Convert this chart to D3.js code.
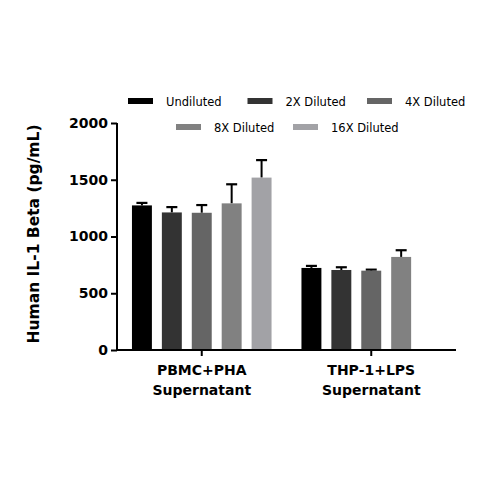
<!DOCTYPE html>
<html>
<head>
<meta charset="utf-8">
<script src="https://cdn.jsdelivr.net/npm/d3@7"></script>
<style>
  html, body { margin: 0; padding: 0; background: #fff; }
  svg { display: block; }
</style>
</head>
<body>
<svg id="chart" width="500" height="500"></svg>
<script>
const groups = ["PBMC+PHA|Supernatant", "THP-1+LPS|Supernatant"];
const series = ["Undiluted", "2X Diluted", "4X Diluted", "8X Diluted", "16X Diluted"];
const colors = ["#000000", "#333333", "#656565", "#818181", "#a2a2a6"];
const means = [
  [1274, 723],
  [1212, 705],
  [1209, 699],
  [1292, 820],
  [1519, null]
];
const errors = [
  [22, 18],
  [47, 24],
  [68, 9],
  [168, 59],
  [154, null]
];
const yTicks = [0, 500, 1000, 1500, 2000];
const yTitle = "Human IL-1 Beta (pg/mL)";

const svg = d3.select("#chart");
const font = "'DejaVu Sans', sans-serif";

const x0 = d3.scaleBand().domain(groups).range([117, 456]).padding(0);
const x1 = d3.scaleBand().domain(series).range([0, x0.bandwidth()]).paddingInner(1/3).paddingOuter(0.5);
const y = d3.scaleLinear().domain([0, 2000]).range([350, 123]);

const data = [];
series.forEach((s, si) => {
  groups.forEach((g, gi) => {
    if (means[si][gi] != null) data.push({ g, s, si, v: means[si][gi], e: errors[si][gi] });
  });
});

// Error bars
const eb = svg.append("g");
data.forEach(d => {
  const cx = x0(d.g) + x1(d.s) + x1.bandwidth() / 2;
  eb.append("line").attr("x1", cx).attr("x2", cx).attr("y1", y(d.v)).attr("y2", y(d.v + d.e))
    .attr("stroke", "#000").attr("stroke-width", 2);
  eb.append("line").attr("x1", cx - 5.5).attr("x2", cx + 5.5).attr("y1", y(d.v + d.e)).attr("y2", y(d.v + d.e))
    .attr("stroke", "#000").attr("stroke-width", 2.2);
});

// Bars
svg.append("g").selectAll("rect").data(data).join("rect")
  .attr("x", d => x0(d.g) + x1(d.s))
  .attr("width", x1.bandwidth())
  .attr("y", d => y(d.v))
  .attr("height", d => y(0) - y(d.v))
  .attr("fill", d => colors[d.si]);

// Y axis
const yAxis = svg.append("g").attr("transform", "translate(117,0)")
  .call(d3.axisLeft(y).tickValues(yTicks).tickSize(6).tickPadding(3).tickFormat(d3.format("d")));
yAxis.select(".domain").attr("stroke", "#000").attr("stroke-width", 2).attr("d", `M0,${y(2000)}V${y(0)}`);
yAxis.selectAll(".tick line").attr("stroke", "#000").attr("stroke-width", 2);
yAxis.selectAll(".tick text").attr("font-family", font).attr("font-weight", "bold")
  .attr("font-size", 14).attr("fill", "#000");

// X axis
const xAxis = svg.append("g").attr("transform", `translate(0,${y(0)})`)
  .call(d3.axisBottom(x0).tickSize(6).tickFormat(""));
xAxis.select(".domain").attr("stroke", "#000").attr("stroke-width", 2).attr("d", `M116,0H456`);
xAxis.selectAll(".tick line").attr("stroke", "#000").attr("stroke-width", 2);
xAxis.selectAll(".tick").each(function(d) {
  const lines = d.split("|");
  const t = d3.select(this).append("text")
    .attr("font-family", font).attr("font-weight", "bold").attr("font-size", 14)
    .attr("fill", "#000").attr("text-anchor", "middle");
  lines.forEach((l, i) => t.append("tspan").attr("x", 0).attr("y", 25 + i * 20).text(l));
});

// Y title
svg.append("text")
  .attr("transform", `translate(39,234) rotate(-90)`)
  .attr("text-anchor", "middle")
  .attr("font-family", font).attr("font-weight", "bold").attr("font-size", 15.5)
  .attr("fill", "#000").text(yTitle);

// Legend
const legend = svg.append("g");
series.forEach((s, i) => {
  const row = i < 3 ? 0 : 1;
  const col = i < 3 ? i : i - 3;
  const lx = 128 + (row === 1 ? 48 : 0) + col * (row === 1 ? 117 : 119.5);
  const ly = 101 + row * 26;
  const item = legend.append("g").attr("transform", `translate(${lx},${ly})`);
  item.append("rect").attr("x", 0).attr("y", -3).attr("width", 25).attr("height", 6).attr("fill", colors[i]);
  item.append("text").attr("x", 38).attr("y", 4.5)
    .attr("font-family", font).attr("font-size", 11.5).attr("fill", "#000").text(s);
});
</script>
</body>
</html>
